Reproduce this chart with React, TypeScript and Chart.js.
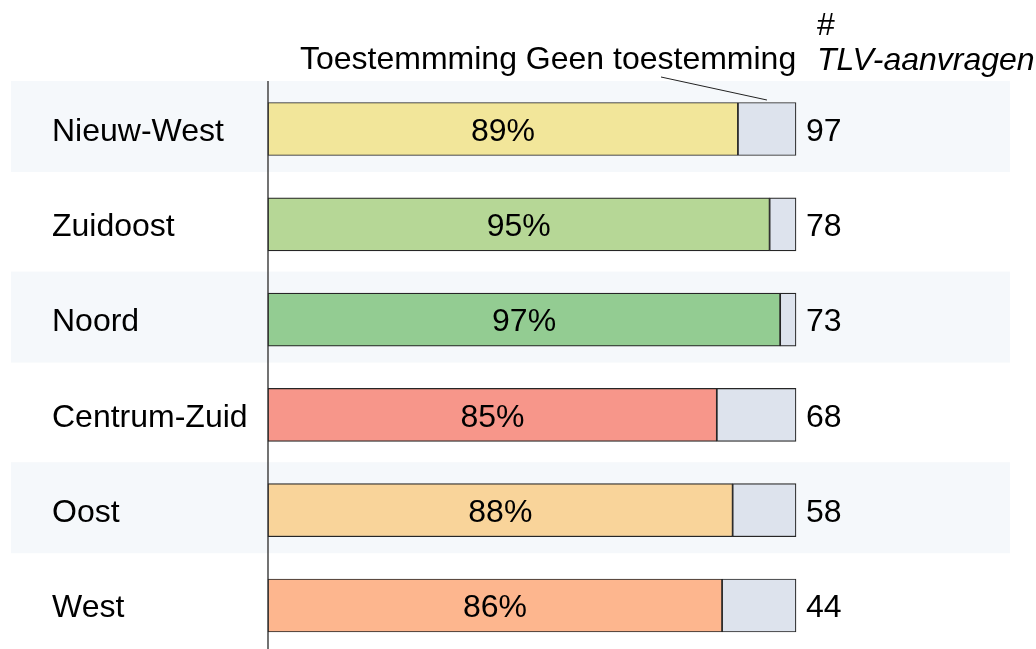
import React, { useEffect, useRef } from "react";
import { Chart, registerables } from "chart.js";

Chart.register(...registerables);

const categories = ["Nieuw-West", "Zuidoost", "Noord", "Centrum-Zuid", "Oost", "West"];
const toestemming = [89, 95, 97, 85, 88, 86];
const geenToestemming = [11, 5, 3, 15, 12, 14];
const aanvragen = [97, 78, 73, 68, 58, 44];
const barColors = ["#F2E69A", "#B6D796", "#93CC92", "#F7968A", "#F9D49A", "#FDB68E"];
const greyColor = "#DDE3ED";
const bandColor = "#F5F8FB";
const FONT = "'Liberation Sans', Arial, sans-serif";

const decorPlugin = {
  id: "decor",
  beforeDraw(chart: any) {
    const ctx = chart.ctx;
    const y = chart.scales.y;
    ctx.save();
    ctx.fillStyle = bandColor;
    for (let i = 0; i < categories.length; i += 2) {
      const yc = y.getPixelForValue(i);
      ctx.fillRect(11, yc - 48, 999, 91);
    }
    const yTop = y.getPixelForValue(0) - 48;
    ctx.strokeStyle = "#444";
    ctx.lineWidth = 1.5;
    ctx.beginPath();
    ctx.moveTo(chart.chartArea.left, yTop);
    ctx.lineTo(chart.chartArea.left, chart.height);
    ctx.stroke();
    ctx.restore();
  },
  afterDatasetsDraw(chart: any) {
    const ctx = chart.ctx;
    const m0 = chart.getDatasetMeta(0);
    const m1 = chart.getDatasetMeta(1);
    ctx.save();
    ctx.fillStyle = "#000";
    ctx.font = `32px ${FONT}`;
    ctx.textBaseline = "middle";
    m0.data.forEach((bar: any, i: number) => {
      const left = bar.base;
      const right = bar.x;
      ctx.textAlign = "center";
      ctx.fillText(`${toestemming[i]}%`, (left + right) / 2, bar.y + 3);
      const g = m1.data[i];
      ctx.textAlign = "left";
      ctx.fillText(String(aanvragen[i]), g.x + 10, bar.y + 3);
    });
    // header
    ctx.textBaseline = "alphabetic";
    ctx.textAlign = "left";
    ctx.font = `32px ${FONT}`;
    ctx.fillText("Toestemmming Geen toestemming", 300, 69);
    ctx.fillText("#", 817, 35);
    ctx.font = `italic 32px ${FONT}`;
    ctx.fillText("TLV-aanvragen", 817, 70);
    // leader line
    const g0 = m1.data[0];
    const top = g0.y - g0.height / 2;
    ctx.strokeStyle = "#222";
    ctx.lineWidth = 1;
    ctx.beginPath();
    ctx.moveTo(661, 77);
    ctx.lineTo((g0.base + g0.x) / 2, top - 2.5);
    ctx.stroke();
    ctx.restore();
  },
};

export default function App() {
  const ref = useRef<HTMLCanvasElement | null>(null);
  useEffect(() => {
    document.body.style.margin = "0";
    const chart = new Chart(ref.current as HTMLCanvasElement, {
      type: "bar",
      data: {
        labels: categories,
        datasets: [
          {
            label: "Toestemming",
            data: toestemming,
            backgroundColor: barColors,
            borderColor: "#262626",
            borderWidth: 1.2,
            borderSkipped: false,
            barThickness: 53,
            clip: false as any,
          },
          {
            label: "Geen toestemming",
            data: geenToestemming,
            backgroundColor: greyColor,
            borderColor: "#262626",
            borderWidth: 1.2,
            borderSkipped: false,
            barThickness: 53,
            clip: false as any,
          },
        ],
      },
      options: {
        indexAxis: "y",
        responsive: false,
        animation: false,
        layout: { padding: { left: 52, right: 240, top: 129, bottom: 43.5 } },
        plugins: { legend: { display: false }, tooltip: { enabled: false } },
        scales: {
          x: { stacked: true, min: 0, max: 100, display: false },
          y: {
            stacked: true,
            offset: false,
            grid: { display: false },
            border: { display: false },
            ticks: {
              crossAlign: "far",
              color: "#000",
              labelOffset: 3,
              font: { family: FONT, size: 32 },
            },
            afterFit: (scale: any) => {
              scale.width = 216;
            },
          },
        },
      },
      plugins: [decorPlugin],
    });
    return () => chart.destroy();
  }, []);
  return (
    <div style={{ position: "absolute", left: 0, top: 0, width: 1036, height: 649 }}>
      <canvas ref={ref} width={1036} height={649} />
    </div>
  );
}
